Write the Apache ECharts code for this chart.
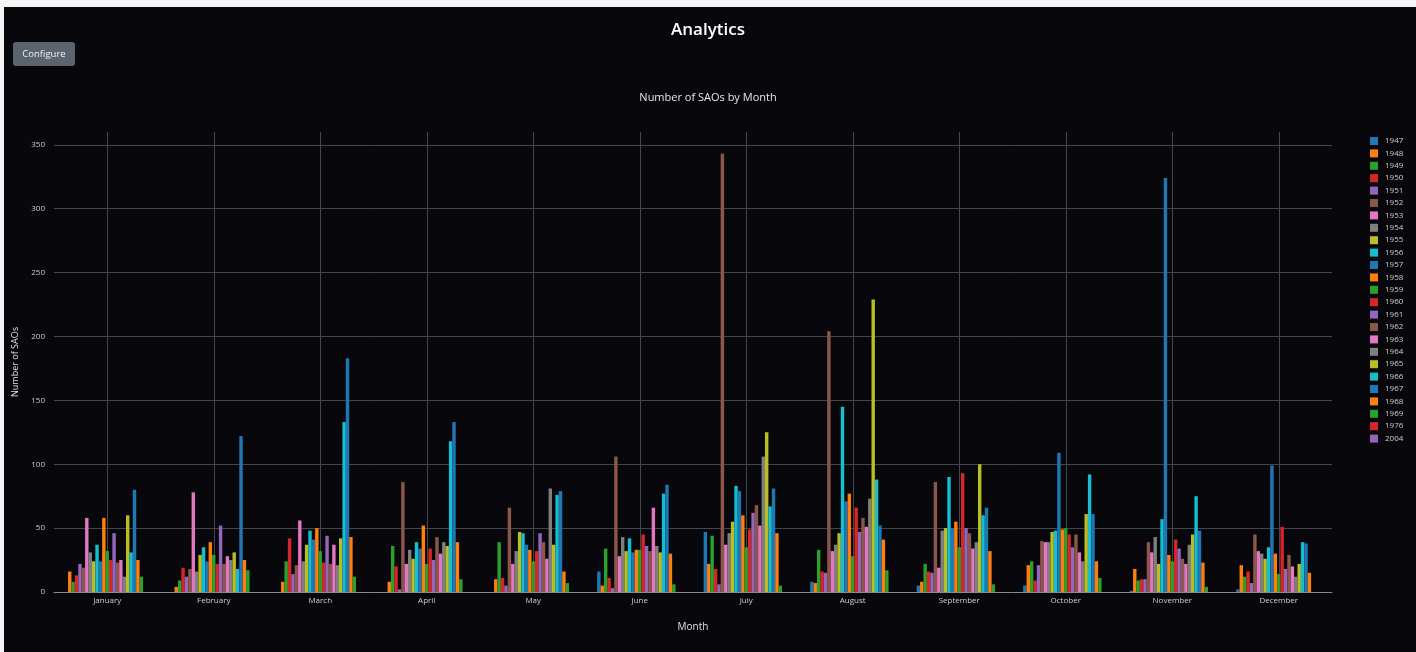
<!DOCTYPE html>
<html>
<head>
<meta charset="utf-8">
<title>Analytics</title>
<script src="https://cdn.jsdelivr.net/npm/echarts@6/dist/echarts.min.js"></script>
<style>
  html, body { margin: 0; padding: 0; background: #ffffff; }
  #chart { position: absolute; left: 0; top: 0; width: 1416px; height: 652px; background: #08080c; }
  .edge { position: absolute; background: #f4f4f4; z-index: 5; }
</style>
</head>
<body>
<div id="chart"></div>
<div class="edge" style="left:0;top:0;width:1416px;height:7px"></div>
<div class="edge" style="left:0;top:0;width:4px;height:652px"></div>
<script>
// month labels on the x axis
const months = ['January', 'February', 'March', 'April', 'May', 'June',
    'July', 'August', 'September', 'October', 'November', 'December']
// one legend entry / series per year
const years = ['1947', '1948', '1949', '1950', '1951', '1952', '1953', '1954', '1955', '1956',
    '1957', '1958', '1959', '1960', '1961', '1962', '1963', '1964', '1965', '1966',
    '1967', '1968', '1969', '1976', '2004']

// number of SAOs, one value per year (same order as years)
const jan = [null, 16, 8, 13, 22, 19, 58, 31, 24, 37, 24, 58, 32, 25, 46, 23, 25, 12, 60, 31, 80, 25, 12, null, null]
const feb = [null, 4, 9, 19, 12, 18, 78, 16, 29, 35, 24, 39, 29, 22, 52, 22, 28, 25, 31, 18, 122, 25, 17, null, null]
const mar = [null, 8, 24, 42, 14, 21, 56, 24, 37, 48, 41, 50, 32, 23, 44, 22, 37, 21, 42, 133, 183, 43, 12, null, null]
const apr = [null, 8, 36, 20, 2, 86, 22, 33, 26, 39, 34, 52, 22, 34, 25, 43, 30, 39, 36, 118, 133, 39, 10, null, null]
const may = [null, 10, 39, 11, 5, 66, 22, 32, 47, 46, 37, 33, 24, 32, 46, 39, 26, 81, 37, 76, 79, 16, 7, null, null]
const jun = [16, 5, 34, 11, 3, 106, 28, 43, 32, 42, 31, 33, 33, 45, 36, 32, 66, 36, 31, 77, 84, 30, 6, null, null]
const jul = [47, 22, 44, 18, 6, 343, 37, 46, 55, 83, 79, 60, 35, 49, 62, 68, 52, 106, 125, 67, 81, 46, 5, null, null]
const aug = [8, 7, 33, 16, 15, 204, 32, 37, 46, 145, 71, 77, 28, 66, 47, 58, 51, 73, 229, 88, 52, 41, 17, null, null]
const sep = [5, 8, 22, 16, 15, 86, 19, 48, 50, 90, 50, 55, 35, 93, 50, 46, 34, 39, 100, 60, 66, 32, 6, null, null]
const oct = [5, 21, 24, 9, 21, 40, 39, 39, 47, 48, 109, 49, 50, 45, 35, 45, 31, 24, 61, 92, 61, 24, 11, null, null]
const nov = [1, 18, 9, 10, 10, 39, 31, 43, 22, 57, 324, 29, 24, 41, 34, 26, 22, 37, 45, 75, 48, 23, 4, null, null]
const dec = [2, 21, 12, 16, 7, 45, 32, 30, 26, 35, 99, 30, 14, 51, 18, 29, 20, 12, 22, 39, 38, 15, null, null, null]

// y axis ticks
const yTicks = [0, 50, 100, 150, 200, 250, 300, 350]

const byMonth = [jan, feb, mar, apr, may, jun, jul, aug, sep, oct, nov, dec]
const palette = ['#1f77b4', '#ff7f0e', '#2ca02c', '#d62728', '#9467bd',
    '#8c564b', '#e377c2', '#7f7f7f', '#bcbd22', '#17becf']

const chart = echarts.init(document.getElementById('chart'))
const font = 'Open Sans, Noto Sans, sans-serif'

// helper axis points every half month (edge to edge), used only for vertical gridlines at month centres
const halfCats = []
for (let i = 0; i <= months.length * 2; i++) halfCats.push('h' + i)

const series = years.map((y, i) => ({
    name: y,
    type: 'bar',
    barGap: '0%',
    barCategoryGap: '20%',
    xAxisIndex: 0,
    itemStyle: { color: palette[i % palette.length] },
    data: byMonth.map(m => m[i]),
}))

const option = {
    animation: false,
    backgroundColor: '#08080c',
    textStyle: { fontFamily: font },
    title: [
        {
            text: 'Analytics',
            left: 'center',
            top: 17,
            textStyle: { color: '#ffffff', fontSize: 17, fontWeight: 600, fontFamily: font },
        },
        {
            text: 'Number of SAOs by Month',
            left: 'center',
            top: 87,
            textStyle: { color: '#e6e6e6', fontSize: 11, fontWeight: 'normal', fontFamily: font },
        },
    ],
    graphic: [
        {
            type: 'group',
            left: 13,
            top: 42,
            children: [
                {
                    type: 'rect',
                    shape: { x: 0, y: 0, width: 62, height: 24, r: 3 },
                    style: { fill: '#5b646e' },
                },
                {
                    type: 'text',
                    x: 31,
                    y: 12,
                    style: {
                        text: 'Configure',
                        fill: '#f0f0f0',
                        fontSize: 9.5,
                        fontFamily: font,
                        align: 'center',
                        verticalAlign: 'middle',
                    },
                },
            ],
        },
    ],
    legend: {
        orient: 'vertical',
        left: 1365,
        top: 132,
        icon: 'rect',
        itemWidth: 8,
        itemHeight: 8,
        itemGap: 4.4,
        data: years,
        textStyle: { color: '#cfcfcf', fontSize: 8, lineHeight: 8, padding: [0, 0, 0, 2], fontFamily: font },
    },
    grid: { left: 54, right: 84, top: 132, bottom: 60 },
    xAxis: [
        {
            type: 'category',
            data: months,
            name: 'Month',
            nameLocation: 'middle',
            nameGap: 30,
            nameTextStyle: { color: '#e0e0e0', fontSize: 10 },
            axisLine: { lineStyle: { color: '#8a8a8a', width: 1 } },
            axisTick: { show: false },
            axisLabel: { color: '#d0d0d0', fontSize: 8, margin: 5 },
            splitLine: { show: false },
        },
        {
            type: 'category',
            data: halfCats,
            boundaryGap: false,
            position: 'bottom',
            axisLine: { show: false },
            axisTick: { show: false },
            axisLabel: { show: false },
            splitLine: {
                show: true,
                interval: (idx) => idx % 2 === 1,
                lineStyle: { color: '#42474d', width: 1 },
            },
        },
    ],
    yAxis: {
        type: 'value',
        min: 0,
        max: 360,
        interval: 50,
        name: 'Number of SAOs',
        nameLocation: 'middle',
        nameGap: 18,
        nameTextStyle: { color: '#e0e0e0', fontSize: 9 },
        axisLine: { show: false },
        axisTick: { show: false },
        axisLabel: {
            color: '#cfcfcf',
            fontSize: 8,
            margin: 9,
            showMaxLabel: false,
            formatter: (v) => (yTicks.indexOf(v) >= 0 ? String(v) : ''),
        },
        splitLine: { show: true, showMinLine: false, showMaxLine: false, lineStyle: { color: '#42474d', width: 1 } },
    },
    series: series,
}

chart.setOption(option)
</script>
</body>
</html>
